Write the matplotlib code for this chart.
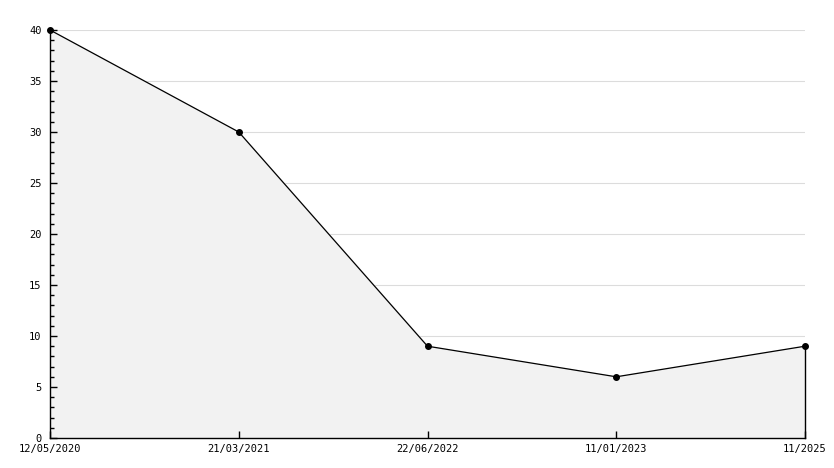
import numpy as np
import matplotlib.pyplot as plt
from matplotlib.ticker import MultipleLocator

# data
dates = ['12/05/2020', '21/03/2021', '22/06/2022', '11/01/2023', '11/2025']
values = [40, 30, 9, 6, 9]

plt.rcParams['font.family'] = 'DejaVu Sans Mono'

fig = plt.figure(figsize=(8.34, 4.68), dpi=100)
ax = fig.add_axes([50 / 834, 30 / 468, 755 / 834, 408 / 468])

x = np.arange(len(dates))
ax.fill_between(x, values, 0, color='#f2f2f2', zorder=1)
ax.plot([x[-1], x[-1]], [0, values[-1]], color='black', lw=1, zorder=3, clip_on=False)
ax.plot(x, values, color='black', lw=0.9, marker='o', ms=4, zorder=4, clip_on=False)

ax.set_xlim(0, len(dates) - 1)
ax.set_ylim(0, 40)
ax.set_xticks(x)
ax.set_xticklabels(dates)
ax.yaxis.set_major_locator(MultipleLocator(5))
ax.yaxis.set_minor_locator(MultipleLocator(1))

for yv in range(5, 45, 5):
    ax.axhline(yv, color='#dcdcdc', lw=0.8, zorder=0)

for side in ['top', 'right']:
    ax.spines[side].set_visible(False)
ax.spines['left'].set_linewidth(1)
ax.spines['bottom'].set_linewidth(1)

ax.tick_params(axis='y', which='major', direction='in', length=5, width=1, labelsize=7.5, pad=6)
ax.tick_params(axis='y', which='minor', direction='in', length=3, width=1)
ax.tick_params(axis='x', which='major', direction='in', length=5, width=1, labelsize=7.5, pad=4)

fig.savefig('out.png', dpi=100)
